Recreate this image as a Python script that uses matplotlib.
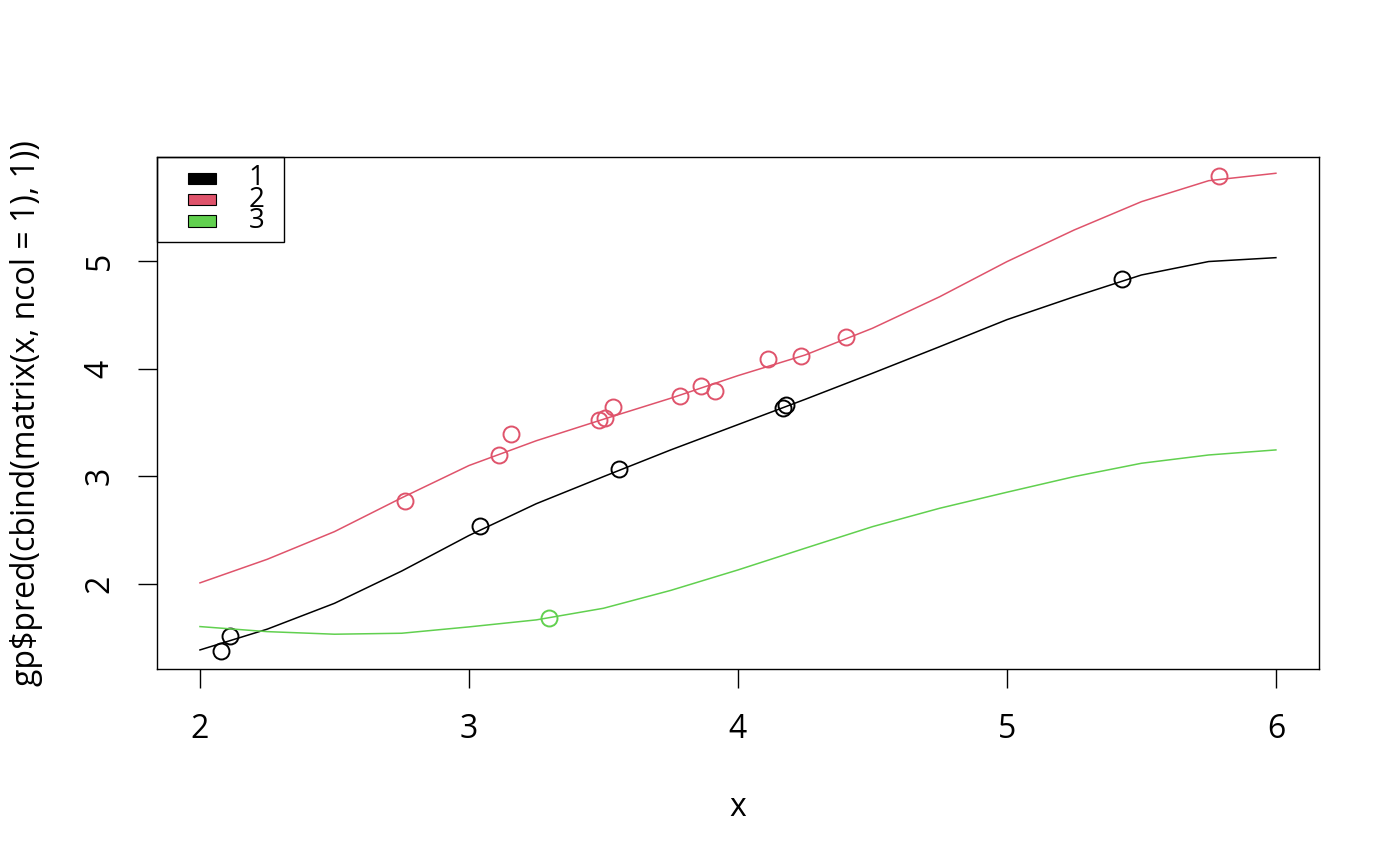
import matplotlib.pyplot as plt
from matplotlib.patches import Rectangle

plt.rcParams['font.family'] = ['Open Sans', 'DejaVu Sans']

# observed points, one group per colour
x1 = [2.078, 2.112, 3.042, 3.559, 4.169, 4.177, 5.427]
y1 = [1.378, 1.517, 2.539, 3.068, 3.635, 3.663, 4.833]
x2 = [2.763, 3.113, 3.157, 3.485, 3.507, 3.537, 3.786, 3.864, 3.916,
      4.110, 4.236, 4.400, 5.788]
y2 = [2.771, 3.198, 3.393, 3.523, 3.542, 3.644, 3.746, 3.839, 3.793,
      4.090, 4.118, 4.294, 5.789]
x3 = [3.299]
y3 = [1.684]

# prediction curves
grid = [2.0, 2.25, 2.5, 2.75, 3.0, 3.25, 3.5, 3.75, 4.0, 4.25, 4.5,
        4.75, 5.0, 5.25, 5.5, 5.75, 6.0]
pred1 = [1.387, 1.58, 1.82, 2.12, 2.45, 2.745, 2.997, 3.245, 3.48,
         3.715, 3.957, 4.204, 4.455, 4.668, 4.87, 4.995, 5.031]
pred2 = [2.01, 2.229, 2.486, 2.80, 3.10, 3.33, 3.53, 3.725, 3.935,
         4.127, 4.375, 4.668, 4.994, 5.288, 5.551, 5.746, 5.815]
pred3 = [1.604, 1.557, 1.533, 1.542, 1.601, 1.666, 1.774, 1.94, 2.13,
         2.332, 2.532, 2.703, 2.852, 2.997, 3.121, 3.198, 3.245]

groups = ['1', '2', '3']
colors = ['#000000', '#DF536B', '#61D04F']

fig = plt.figure(figsize=(14, 8.66), dpi=100)
ax = fig.add_axes([0.1121, 0.2275, 0.8300, 0.5912])

for xs, ys, px, col in [(x1, y1, pred1, colors[0]),
                        (x2, y2, pred2, colors[1]),
                        (x3, y3, pred3, colors[2])]:
    ax.plot(xs, ys, 'o', mfc='none', mec=col, ms=11.5, mew=1.4)
    ax.plot(grid, px, '-', color=col, lw=1.1, solid_joinstyle='round')

ax.set_xlim(1.84, 6.16)
ax.set_ylim(1.21, 5.966)
ax.set_xticks([2, 3, 4, 5, 6])
ax.set_yticks([2, 3, 4, 5])
ax.tick_params(direction='out', length=14, width=1.0, labelsize=23)
ax.tick_params(axis='x', pad=18)
ax.tick_params(axis='y', pad=15)
for lab in ax.get_yticklabels():
    lab.set_rotation(90)
    lab.set_va('center')
for sp in ax.spines.values():
    sp.set_linewidth(1.0)

ax.set_xlabel('x', fontsize=23, labelpad=32)
ax.set_ylabel('gp\\$pred(cbind(matrix(x, ncol = 1), 1))', fontsize=23, labelpad=29)

# legend box in the top left corner, R style
ax.add_patch(Rectangle((0, 0.834), 0.1093, 0.166, transform=ax.transAxes,
                       fill=False, ec='black', lw=1.0, clip_on=False))
for i, (g, col) in enumerate(zip(groups, colors)):
    yc = 0.9584 - i * 0.0417
    ax.add_patch(Rectangle((0.0267, yc - 0.0112), 0.0241, 0.0225,
                           transform=ax.transAxes, fc=col, ec='black', lw=0.8))
    ax.text(0.086, yc, g, transform=ax.transAxes, ha='center', va='center',
            fontsize=20)

fig.savefig('out.png', dpi=100)
